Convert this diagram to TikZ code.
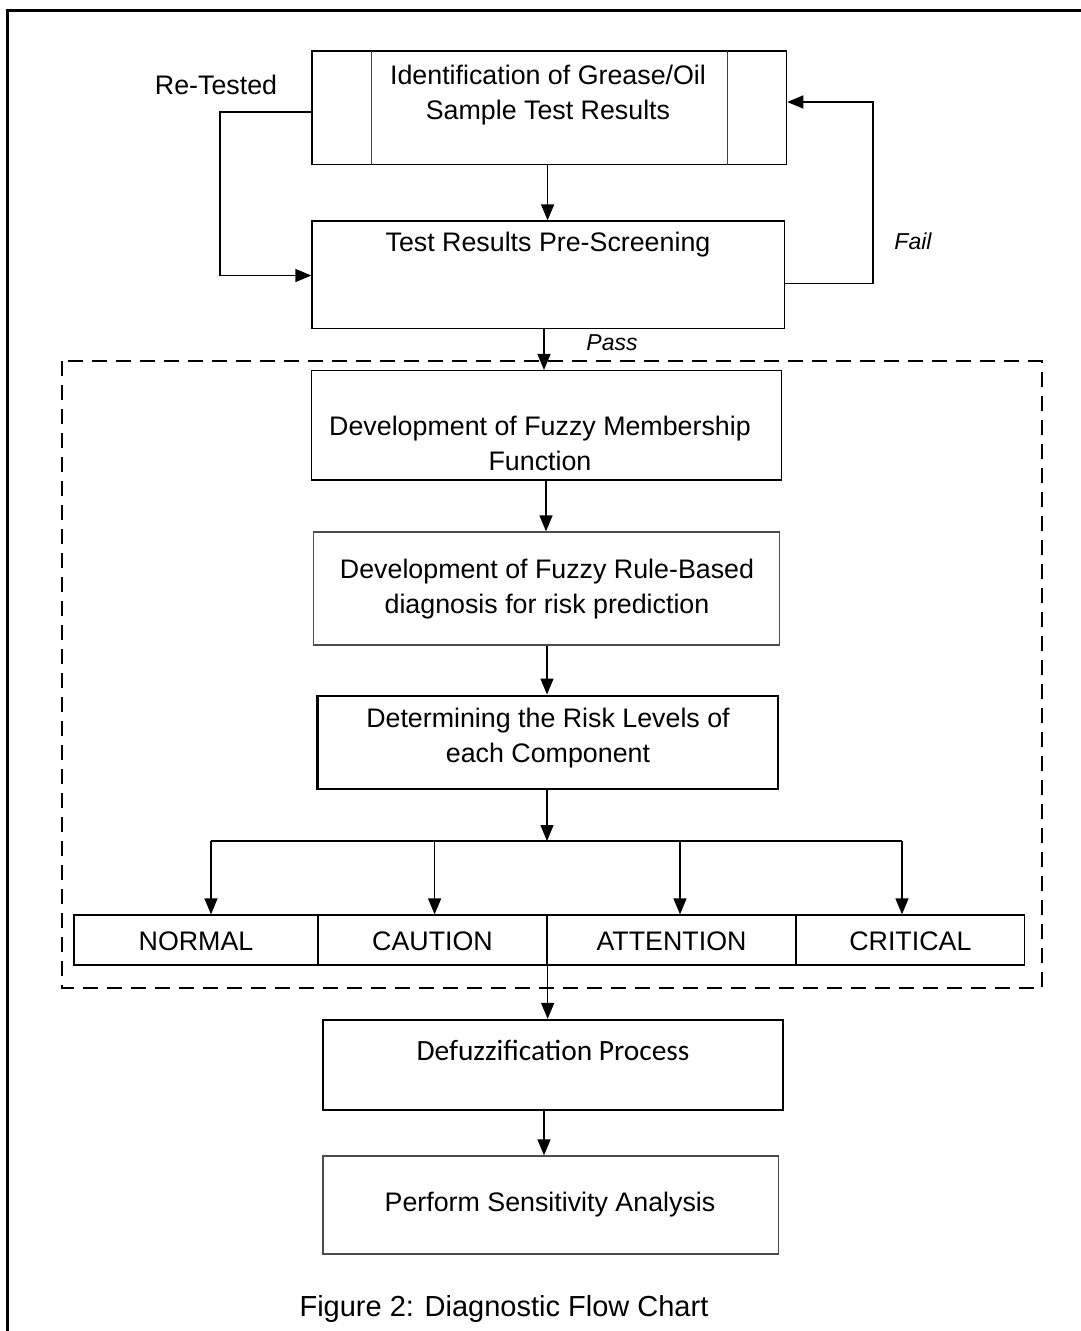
\documentclass[tikz,border=0pt]{standalone}
\usepackage{fontspec}
\setmainfont{Liberation Sans}
\newfontfamily\calib{Carlito}
\usetikzlibrary{arrows.meta}
\begin{document}
\begin{tikzpicture}[x=1pt,y=-1pt,
  box/.style={draw,line width=1.3pt,inner sep=0pt},
  thickbox/.style={draw,line width=2.3pt,inner sep=0pt},
  txt/.style={inner sep=0pt,font=\fontsize{26.8}{35}\selectfont,align=center},
  lbl/.style={inner sep=0pt,font=\fontsize{23}{26}\selectfont\itshape},
  arr/.style={line width=1.4pt,-{Triangle[length=16pt,width=13pt]}},
  ln/.style={line width=1.4pt}]
\useasboundingbox (0,0) rectangle (1080,1331);
% outer frame (clipped)
\draw[line width=3pt] (7.6,1340) -- (7.6,10.3) -- (1090,10.3);
% dashed region
\draw[dashed,line width=1.8pt,dash pattern=on 15pt off 9pt] (62,361) rectangle (1041.7,988);

% boxes
\node[box,minimum width=474.6pt,minimum height=113.6pt] (b1) at (549.3,107.8) {};
\draw[line width=1pt,black!75] (371,51) -- (371,164.6);
\draw[line width=1pt,black!75] (727,51) -- (727,164.6);
\node[txt] (t1) at (548,95) {Identification of Grease/Oil\\Sample Test Results};

\node[box,minimum width=472.5pt,minimum height=107.5pt] (b2) at (548.25,274.75) {};
\node[txt] (t2) at (548,245) {Test Results Pre-Screening};

\node[box,minimum width=470pt,minimum height=109.4pt] (b3) at (546.5,425.3) {};
\node[txt] (t3) at (540,443) {Development of Fuzzy Membership\\Function};

\node[box,draw=black!70,minimum width=466pt,minimum height=113pt] (b4) at (546.8,588.5) {};
\node[txt] (t4) at (547,589.5) {Development of Fuzzy Rule-Based\\diagnosis for risk prediction};

\node[thickbox,minimum width=460.3pt,minimum height=93.3pt] (b5) at (547.65,742.35) {};
\node[txt] (t5) at (548,738) {Determining the Risk Levels of\\each Component};

% level row
\node[box,minimum width=244pt,minimum height=50pt] (n1) at (196,940) {};
\node[box,minimum width=229pt,minimum height=50pt] (n2) at (432.5,940) {};
\node[box,minimum width=249pt,minimum height=50pt] (n3) at (671.5,940) {};
\node[box,minimum width=228.7pt,minimum height=50pt] (n4) at (910.35,940) {};
\node[txt] (l1) at (196,941) {NORMAL};
\node[txt] (l2) at (432.5,941) {CAUTION};
\node[txt] (l3) at (671.5,941) {ATTENTION};
\node[txt] (l4) at (910.35,941) {CRITICAL};

\node[thickbox,minimum width=459.7pt,minimum height=90pt] (df) at (553,1065) {};
\node[txt,font=\calib\fontsize{29.4}{34}\selectfont] (tdf) at (553,1050) {Defuzzification Process};

\node[box,draw=black!70,minimum width=455.7pt,minimum height=98pt] (pf) at (550.85,1205) {};
\node[txt] (tpf) at (550,1205) {Perform Sensitivity Analysis};

\node[txt,font=\fontsize{29}{34}\selectfont] (cap) at (504,1309) {Figure 2: Diagnostic Flow Chart};

% labels
\node[txt] (rt) at (216,85) {Re-Tested};
\node[lbl] (fail) at (913,241) {Fail};
\node[lbl] (pass) at (612,343) {Pass};

% coordinates
\coordinate (rtA) at (220,112);
\coordinate (rtB) at (220,275.5);
\coordinate (fA) at (873,283.7);
\coordinate (fB) at (873,102);
\coordinate (br) at (547,841);
\coordinate (a1) at (211,841);
\coordinate (a2) at (434.6,841);
\coordinate (a3) at (680,841);
\coordinate (a4) at (902,841);

% connectors
\draw[arr] (b1.south -| 547.6,0) -- (b2.north -| 547.6,0);
\draw[arr] (b1.west |- rtA) -- (rtA) -- (rtB) -- (b2.west |- rtB);
\draw[arr] (b2.east |- fA) -- (fA) -- (fB) -- (b1.east |- fB);
\draw[arr] (b2.south -| 544,0) -- (b3.north -| 544,0);
\draw[arr] (b3.south -| 546,0) -- (b4.north -| 546,0);
\draw[arr] (b4.south -| 547,0) -- (b5.north -| 547,0);
\draw[arr] (b5.south -| br) -- (br);
\draw[ln] (a1) -- (a4);
\draw[arr] (a1) -- (a1 |- n1.north);
\draw[arr] (a2) -- (a2 |- n2.north);
\draw[arr] (a3) -- (a3 |- n3.north);
\draw[arr] (a4) -- (a4 |- n4.north);
\draw[arr] (n2.south east) -- (n2.south east |- df.north);
\draw[arr] (df.south -| 544,0) -- (pf.north -| 544,0);
\end{tikzpicture}
\end{document}
